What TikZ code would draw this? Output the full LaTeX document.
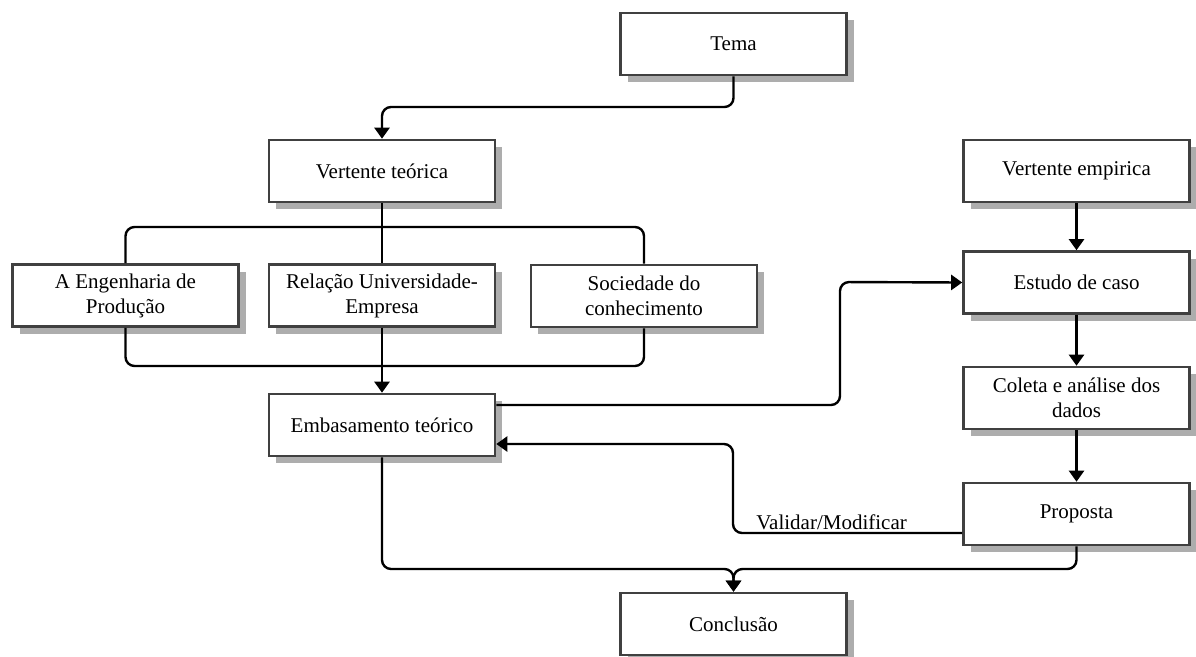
\documentclass[tikz,border=0pt]{standalone}
\usepackage{fontspec}
\setmainfont{Liberation Serif}
\usepackage{tikz}
\usetikzlibrary{positioning}
\usetikzlibrary{shadows}
\usetikzlibrary{arrows.meta}

\begin{document}
\begin{tikzpicture}
        [x=1pt,y=-1pt,
         box/.style={draw=black!75, line width=2.6pt, fill=white,
           minimum width=226pt, minimum height=62pt, align=center,
           font=\fontsize{21}{25}\selectfont,
           drop shadow={shadow xshift=7pt, shadow yshift=-7pt, fill=black!32, opacity=1}},
         conn/.style={line width=2.4pt, rounded corners=9pt},
         arr/.style={conn,-{Triangle[width=15pt,length=11pt]}}]
      \useasboundingbox (0,0) rectangle (1196,656);

      \node[box] (tema) at (733.5,44) {Tema};
      \node[box] (vteo) at (382,171) {Vertente teórica};
      \node[box] (eng)  at (125.5,295.5) {A Engenharia de\\Produção};
      \node[box] (rel)  at (382,295.5) {Relação Universidade-\\Empresa};
      \node[box] (soc)  at (644,296) {Sociedade do\\conhecimento};
      \node[box] (emb)  at (382,425) {Embasamento teórico};
      \node[box] (vemp) at (1076.5,171) {Vertente empirica};
      \node[box] (est)  at (1076.5,282.5) {Estudo de caso};
      \node[box] (col)  at (1076.5,398) {Coleta e análise dos\\dados};
      \node[box] (prop) at (1076.5,514) {Proposta};
      \node[box] (conc) at (733.5,624) {Conclusão};

      \draw[arr] (tema.south) |- (vteo.north |- 0,107) -- (vteo.north);
      \draw[conn] (vteo.south) -- (rel.north);
      \draw[conn] (eng.north) |- (soc.north |- 0,227) -- (soc.north);
      \draw[conn] (eng.south) |- (soc.south |- 0,366) -- (soc.south);
      \draw[arr] (rel.south) -- (emb.north);
      \draw[arr] (emb.east |- 0,405) -| (840,282) -- (est.west);
      \draw[arr] (vemp) -- (est);
      \draw[arr] (est) -- (col);
      \draw[arr] (col) -- (prop);
      \draw[arr] (prop.west |- 0,533) -- node[above, pos=0.57, inner sep=2pt, font=\fontsize{21}{25}\selectfont] (valid) {Validar/Modificar}
            (733,533) |- (emb.east |- 0,444);
      \draw[arr] (emb.south) |- (conc.north |- 0,569) -- (conc.north);
      \draw[arr] (prop.south) |- (conc.north |- 0,569) -- (conc.north);
      \end{tikzpicture}
\end{document}
